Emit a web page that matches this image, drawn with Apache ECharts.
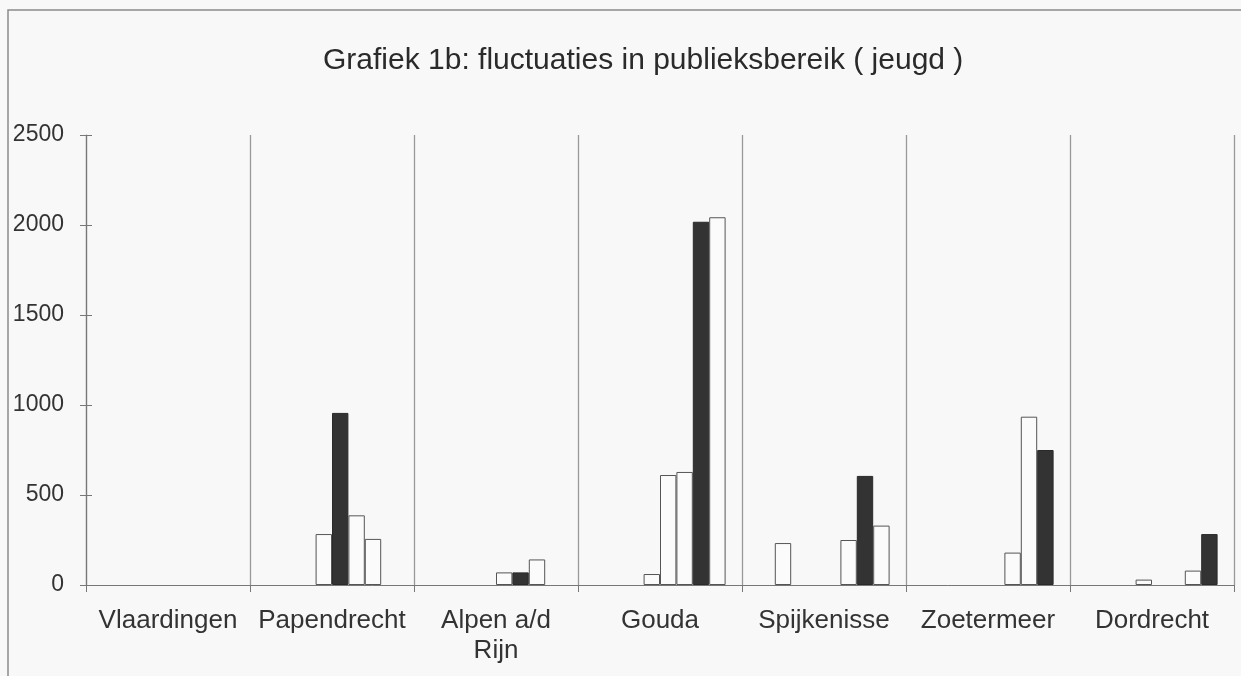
<!DOCTYPE html>
<html>
<head>
<meta charset="utf-8">
<title>Grafiek 1b</title>
<script src="https://cdn.jsdelivr.net/npm/echarts@6/dist/echarts.min.js"></script>
<style>
  html, body { margin: 0; padding: 0; background: #f8f8f8; }
  #chart { width: 1241px; height: 676px; }
</style>
</head>
<body>
<div id="chart"></div>
<script>
// categories (cities)
const categories = ['Vlaardingen', 'Papendrecht', 'Alpen a/d\nRijn', 'Gouda', 'Spijkenisse', 'Zoetermeer', 'Dordrecht'];

// one array per bar slot inside a category (10 slots, left to right)
const slot1 = [null, null, null, null, null, null, null];
const slot2 = [null, null, null, null, null, null, null];
const slot3 = [null, null, null, null, 233, null, null];
const slot4 = [null, null, null, null, null, null, null];
const slot5 = [null, 283, null, 61, null, null, 30];
const slot6 = [null, 956, 70, 611, null, null, null];
const slot7 = [null, 387, 70, 628, 250, 180, null];
const slot8 = [null, 256, 142, 2018, 606, 935, 80];
const slot9 = [null, null, null, 2043, 330, 750, 283];
const slot10 = [null, null, null, null, null, null, null];

// which slot is drawn dark in each category (index into slots)
const darkSlot = [null, 5, 6, 7, 7, 8, 8];

const slots = [slot1, slot2, slot3, slot4, slot5, slot6, slot7, slot8, slot9, slot10];

let myChart = echarts.init(document.getElementById('chart'));

let series = slots.map(function (values, k) {
    return {
        type: 'bar',
        barGap: '0%',
        barCategoryGap: '0%',
        data: values.map(function (v, i) {
            let dark = darkSlot[i] === k;
            return {
                value: v,
                itemStyle: {
                    color: dark ? '#333333' : '#fbfbfb',
                    borderColor: dark ? '#2a2a2a' : '#555555',
                    borderWidth: 1
                }
            };
        })
    };
});

let option = {
    backgroundColor: '#f8f8f8',
    animation: false,
    textStyle: { fontFamily: 'Liberation Sans, Arial, sans-serif' },
    title: {
        text: 'Grafiek 1b: fluctuaties in publieksbereik ( jeugd )',
        left: 318,
        top: 41,
        textStyle: {
            color: '#2a2a2a',
            fontSize: 30,
            fontWeight: 'normal'
        }
    },
    graphic: [{
        type: 'rect',
        shape: { x: 8, y: 10, width: 1300, height: 700 },
        style: { fill: null, stroke: '#8a8a8a', lineWidth: 1.5 },
        silent: true
    }],
    grid: { left: 86, right: 7, top: 135, bottom: 91 },
    xAxis: {
        type: 'category',
        data: categories,
        axisLine: { lineStyle: { color: '#777', width: 1 } },
        axisTick: { show: true, interval: 0, length: 7, lineStyle: { color: '#777' } },
        splitLine: { show: true, interval: 0, lineStyle: { color: '#999', width: 1.3 } },
        axisLabel: {
            interval: 0,
            margin: 21,
            color: '#333',
            fontSize: 26,
            lineHeight: 30
        }
    },
    yAxis: [{
        type: 'value',
        min: 0,
        max: 2500,
        interval: 500,
        axisLine: { show: true, lineStyle: { color: '#777', width: 1.2 } },
        axisTick: { show: true, length: 6, lineStyle: { color: '#777' } },
        splitLine: { show: false },
        axisLabel: {
            margin: 22,
            color: '#333',
            fontSize: 23,
            formatter: function (v) { return String(v); }
        }
    }, {
        type: 'value',
        position: 'left',
        min: 0,
        max: 2500,
        interval: 500,
        axisLine: { show: false },
        axisTick: { show: true, inside: true, length: 6, lineStyle: { color: '#777' } },
        splitLine: { show: false },
        axisLabel: { show: false }
    }],
    series: series
};

myChart.setOption(option);
</script>
</body>
</html>
